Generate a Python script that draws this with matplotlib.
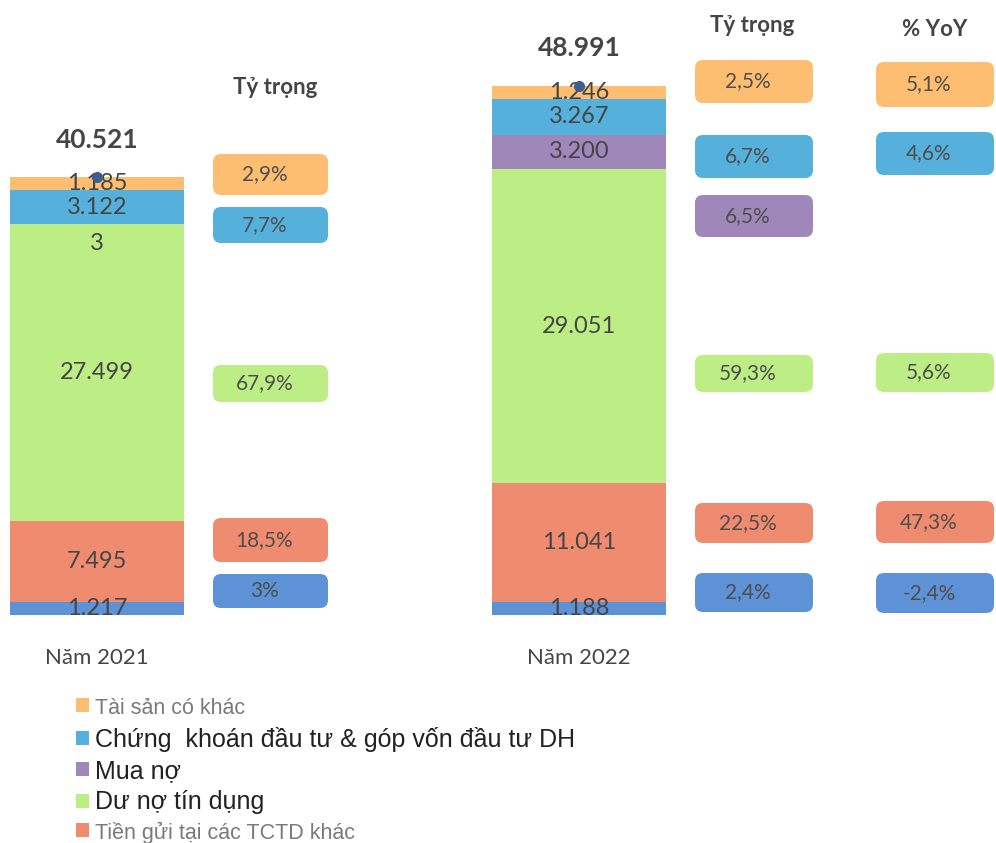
import matplotlib
matplotlib.use("Agg")
import matplotlib.pyplot as plt
from matplotlib.patches import FancyBboxPatch

plt.rcParams['font.family'] = ['Lato', 'Open Sans', 'DejaVu Sans']

# ---------------- data ----------------
categories = ['Năm 2021', 'Năm 2022']
totals = [40.521, 48.991]
total_labels = ['40.521', '48.991']

# stacked bottom -> top
cash_values = [1.217, 1.188]          # bottom segment (not in legend)
tien_gui = [7.495, 11.041]            # Tiền gửi tại các TCTD khác
du_no = [27.499, 29.051]              # Dư nợ tín dụng
mua_no = [0.003, 3.200]               # Mua nợ
chung_khoan = [3.122, 3.267]          # Chứng khoán đầu tư & góp vốn đầu tư DH
tai_san_khac = [1.185, 1.246]         # Tài sản có khác

cash_labels = ['1.217', '1.188']
tien_gui_labels = ['7.495', '11.041']
du_no_labels = ['27.499', '29.051']
mua_no_labels = ['3', '3.200']
chung_khoan_labels = ['3.122', '3.267']
tai_san_khac_labels = ['1.185', '1.246']

legend_names = ['Tài sản có khác', 'Chứng  khoán đầu tư & góp vốn đầu tư DH',
                'Mua nợ', 'Dư nợ tín dụng', 'Tiền gửi tại các TCTD khác']

share_2021 = ['2,9%', '7,7%', '67,9%', '18,5%', '3%']           # khác, CK, dư nợ, tiền gửi, cash
share_2022 = ['2,5%', '6,7%', '6,5%', '59,3%', '22,5%', '2,4%']  # khác, CK, mua nợ, dư nợ, tiền gửi, cash
yoy_2022 = ['5,1%', '4,6%', '5,6%', '47,3%', '-2,4%']           # khác, CK, dư nợ, tiền gửi, cash

# ---------------- styles ----------------
c_orange = '#FDBE72'
c_blue = '#55B0DC'
c_purple = '#9F88B9'
c_green = '#BDEE86'
c_red = '#EF8C70'
c_cash = '#5E92D6'
txt = '#454545'

W, H = 996, 843
fig = plt.figure(figsize=(W / 100, H / 100), dpi=100)
ax = fig.add_axes([0, 0, 1, 1])
ax.set_axis_off()

px_per_unit = 10.8
base_px = 228
ax.set_ylim(-base_px / px_per_unit, (H - base_px) / px_per_unit)
xu = 482.0
x0 = 97.0
ax.set_xlim(-x0 / xu, (W - x0) / xu)

x = [0, 1]
bw = 0.36
series = [
    (cash_values, cash_labels, c_cash, '_cash'),
    (tien_gui, tien_gui_labels, c_red, legend_names[4]),
    (du_no, du_no_labels, c_green, legend_names[3]),
    (mua_no, mua_no_labels, c_purple, legend_names[2]),
    (chung_khoan, chung_khoan_labels, c_blue, legend_names[1]),
    (tai_san_khac, tai_san_khac_labels, c_orange, legend_names[0]),
]
bottom = [0.0, 0.0]
for vals, labs, col, name in series:
    ax.bar(x, vals, bw, bottom=bottom, color=col, label=name, edgecolor='none')
    for i in range(2):
        yc = bottom[i] + vals[i] / 2
        if vals[i] < 0.01:
            ax.annotate(labs[i], (x[i], yc), xytext=(0, -14), textcoords='offset points',
                        ha='center', va='center', fontsize=17, color=txt)
        else:
            ax.text(x[i], yc, labs[i], ha='center', va='center', fontsize=17, color=txt)
    bottom = [bottom[i] + vals[i] for i in range(2)]

ax.plot(x, totals, 'o', color='#3E5F8E', markersize=7, zorder=5)
for i in range(2):
    ax.annotate(total_labels[i], (x[i], totals[i]), xytext=(0, 27), textcoords='offset points',
                ha='center', va='center', fontsize=19, fontweight='bold', color=txt)
    ax.annotate(categories[i], (x[i], 0), xytext=(0, -31), textcoords='offset points',
                ha='center', va='center', fontsize=16, color=txt)


# ---------------- side boxes (layout in pixels) ----------------
def box(x1, x2, y1, y2, color, label):
    fx, fy = x1 / W, 1 - y2 / H
    fw, fh = (x2 - x1) / W, (y2 - y1) / H
    p = FancyBboxPatch((fx, fy), fw, fh, boxstyle='round,pad=0,rounding_size=0.008',
                       transform=fig.transFigure, facecolor=color, edgecolor='none',
                       mutation_aspect=W / H)
    fig.patches.append(p)
    fig.text((x1 + x2) / 2 / W - 6 / W, 1 - (y1 + y2) / 2 / H, label, ha='center', va='center',
             fontsize=15, color='#4E4E4E')


col21 = (213, 328)
rows21 = [(154, 195, c_orange), (207, 243, c_blue), (365, 402, c_green),
          (518, 562, c_red), (574, 608, c_cash)]
for (y1, y2, c), lab in zip(rows21, share_2021):
    box(col21[0], col21[1], y1, y2, c, lab)

col22 = (695, 813)
rows22 = [(60, 103, c_orange), (135, 178, c_blue), (195, 237, c_purple), (355, 392, c_green),
          (503, 543, c_red), (573, 612, c_cash)]
for (y1, y2, c), lab in zip(rows22, share_2022):
    box(col22[0], col22[1], y1, y2, c, lab)

coly = (876, 994)
rowsy = [(62, 107, c_orange), (132, 175, c_blue), (353, 392, c_green),
         (501, 543, c_red), (573, 613, c_cash)]
for (y1, y2, c), lab in zip(rowsy, yoy_2022):
    box(coly[0], coly[1], y1, y2, c, lab)

fig.text(275 / W, 1 - 87 / H, 'Tỷ trọng', ha='center', va='center', fontsize=16,
         fontweight='bold', color=txt)
fig.text(752 / W, 1 - 25 / H, 'Tỷ trọng', ha='center', va='center', fontsize=16,
         fontweight='bold', color=txt)
fig.text(935 / W, 1 - 30 / H, '% YoY', ha='center', va='center', fontsize=16,
         fontweight='bold', color=txt)

# ---------------- legend ----------------
handles, labels = ax.get_legend_handles_labels()
hmap = dict(zip(labels, handles))
leg_handles = [hmap[n] for n in legend_names]
leg = fig.legend(leg_handles, legend_names, loc='upper left',
                 bbox_to_anchor=(66 / W, 1 - 688 / H), frameon=False,
                 fontsize=18, handlelength=0.5, handleheight=0.5, handletextpad=0.25,
                 labelspacing=0.3, borderaxespad=0)
for t in leg.get_texts():
    t.set_family(['Liberation Sans', 'DejaVu Sans'])
    t.set_color('#222222')
for k in (0, 4):
    leg.get_texts()[k].set_color('#7A7A7A')
    leg.get_texts()[k].set_fontsize(15.5)

fig.savefig('out.png', dpi=100)
